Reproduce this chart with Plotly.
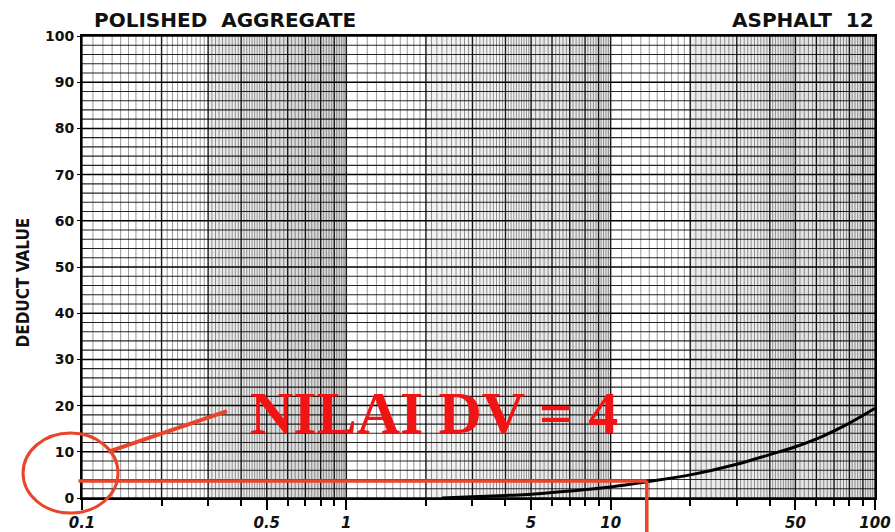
import math
import plotly.graph_objects as go

# ---- data ----
curve_x = [2.3, 3, 4, 5, 7, 10, 13.7, 20, 30, 40, 50, 63, 80, 100]
curve_y = [0, 0.25, 0.55, 0.8, 1.5, 2.4, 3.5, 5.0, 7.3, 9.4, 11.1, 13.3, 16.2, 19.4]

x_tick_vals = [0.1, 0.5, 1, 5, 10, 50, 100]
x_tick_text = ["0.1", "0.5", "1", "5", "10", "50", "100"]
y_tick_vals = [0, 10, 20, 30, 40, 50, 60, 70, 80, 90, 100]

dv_value = 3.7       # read-off deduct value (labelled as 4)
dv_density = 13.7    # density at which it is read
dv_label = "NILAI DV = 4"
title_left = "POLISHED\u00a0\u00a0AGGREGATE"
title_right = "ASPHALT\u00a0\u00a012"
y_title = "DEDUCT VALUE"

# scan shading bands on the log paper (density ranges, opacity)
shade_bands = [(0.3, 0.5, 0.08), (0.5, 1.0, 0.14), (2.0, 5.0, 0.05), (5.0, 10.0, 0.09),
               (20.0, 45.0, 0.08), (45.0, 100.0, 0.11)]

X_LOG_RANGE = [-1, 2]
Y_RANGE = [0, 100]


def xp(v):
    return (math.log10(v) - X_LOG_RANGE[0]) / (X_LOG_RANGE[1] - X_LOG_RANGE[0])


def yp(v):
    return (v - Y_RANGE[0]) / (Y_RANGE[1] - Y_RANGE[0])


# ---- log-paper grid values ----
minor_x, major_x = [], []
for dec in [0.1, 1, 10]:
    for m in range(1, 11):
        major_x.append(round(m * dec, 6))
    steps = [(1, 2, 0.1), (2, 5, 0.1), (5, 10, 0.2)]
    for a, b, s in steps:
        n = int(round((b - a) / s))
        for k in range(1, n):
            v = a + k * s
            if abs(v - round(v)) > 1e-6:
                minor_x.append(round(v * dec, 6))
major_x = sorted(set(major_x))
minor_y = [v for v in range(0, 101, 2) if v % 10]
major_y = list(range(0, 101, 10))


def vlines(xs):
    X, Y = [], []
    for x in xs:
        X += [x, x, None]
        Y += [0, 100, None]
    return X, Y


def hlines(ys):
    X, Y = [], []
    for y in ys:
        X += [0.1, 100, None]
        Y += [y, y, None]
    return X, Y


fig = go.Figure()
gx, gy = vlines(minor_x)
fig.add_trace(go.Scatter(x=gx, y=gy, mode="lines", line=dict(color="rgba(20,20,20,0.55)", width=0.8),
                         hoverinfo="skip", showlegend=False))
gx, gy = hlines(minor_y)
fig.add_trace(go.Scatter(x=gx, y=gy, mode="lines", line=dict(color="rgba(0,0,0,0.85)", width=1.1),
                         hoverinfo="skip", showlegend=False))
gx, gy = vlines(major_x)
fig.add_trace(go.Scatter(x=gx, y=gy, mode="lines", line=dict(color="rgba(0,0,0,0.9)", width=1.4),
                         hoverinfo="skip", showlegend=False))
gx, gy = hlines(major_y)
fig.add_trace(go.Scatter(x=gx, y=gy, mode="lines", line=dict(color="black", width=1.5),
                         hoverinfo="skip", showlegend=False))

# the deduct curve
fig.add_trace(go.Scatter(x=curve_x, y=curve_y, mode="lines", line=dict(color="black", width=3, shape="spline"),
                         showlegend=False))

red_line = "#e8452a"
shapes = [
    dict(type="rect", xref="paper", yref="paper", x0=xp(a), x1=xp(b), y0=0, y1=1, layer="below",
         line=dict(width=0), fillcolor="rgba(0,0,0,%.2f)" % o)
    for a, b, o in shade_bands
]
shapes += [
    # horizontal read-off line
    dict(type="line", xref="paper", yref="paper", x0=xp(0.097), x1=xp(dv_density), y0=yp(dv_value), y1=yp(dv_value),
         line=dict(color=red_line, width=3.5)),
    # vertical read-off line going below the axis
    dict(type="line", xref="paper", yref="paper", x0=xp(dv_density), x1=xp(dv_density), y0=yp(dv_value), y1=-0.08,
         line=dict(color=red_line, width=3.5)),
    # circle around the value on the y axis
    dict(type="circle", xref="paper", yref="paper", x0=xp(0.0905) - 0.0599, x1=xp(0.0905) + 0.0599,
         y0=yp(5.4) - 0.0866, y1=yp(5.4) + 0.0866, line=dict(color=red_line, width=3)),
    # leader line from circle to label
    dict(type="line", xref="paper", yref="paper", x0=xp(0.1254), y0=yp(10.0), x1=xp(0.3536), y1=yp(18.8),
         line=dict(color=red_line, width=4)),
]

annotations = [
    dict(text=dv_label, xref="paper", yref="paper", x=xp(2.146), y=yp(18.4), showarrow=False,
         xanchor="center", yanchor="middle",
         font=dict(family="Liberation Serif", size=60, color="#f01414", weight="bold")),
    dict(text=title_left, xref="paper", yref="paper", x=0.0126, y=1.0357, showarrow=False,
         xanchor="left", yanchor="middle", font=dict(family="DejaVu Sans", size=20, color="#111", weight="bold")),
    dict(text=title_right, xref="paper", yref="paper", x=1.001, y=1.0357, showarrow=False,
         xanchor="right", yanchor="middle", font=dict(family="DejaVu Sans", size=20, color="#111", weight="bold")),
    dict(text=y_title, xref="paper", yref="paper", x=-0.0738, y=0.4675, showarrow=False, textangle=-90,
         xanchor="center", yanchor="middle",
         font=dict(family="DejaVu Sans Condensed, Liberation Sans Narrow", size=17, color="#111", weight="bold")),
]

fig.update_layout(
    width=895, height=532,
    margin=dict(l=82, r=20, t=36, b=34, autoexpand=False),
    paper_bgcolor="white", plot_bgcolor="white",
    shapes=shapes, annotations=annotations,
    xaxis=dict(type="log", range=X_LOG_RANGE, tickmode="array", tickvals=x_tick_vals, ticktext=x_tick_text,
               ticks="outside", ticklen=10, tickwidth=2, tickcolor="black", showgrid=False, zeroline=False,
               showline=True, linecolor="black", linewidth=2, mirror=True, automargin=False,
               minor=dict(dtick="D1", ticks="outside", ticklen=6, tickwidth=1.5, tickcolor="black", showgrid=False),
               tickfont=dict(family="DejaVu Sans", size=15, color="#111", weight="bold", style="italic")),
    yaxis=dict(range=Y_RANGE, tickmode="array", tickvals=y_tick_vals, ticks="outside", ticklen=3,
               tickcolor="black", showgrid=False, zeroline=False, automargin=False,
               showline=True, linecolor="black", linewidth=2, mirror=True,
               tickfont=dict(family="DejaVu Sans", size=14, color="#111", weight="bold")),
)

fig.write_html("out.html")
